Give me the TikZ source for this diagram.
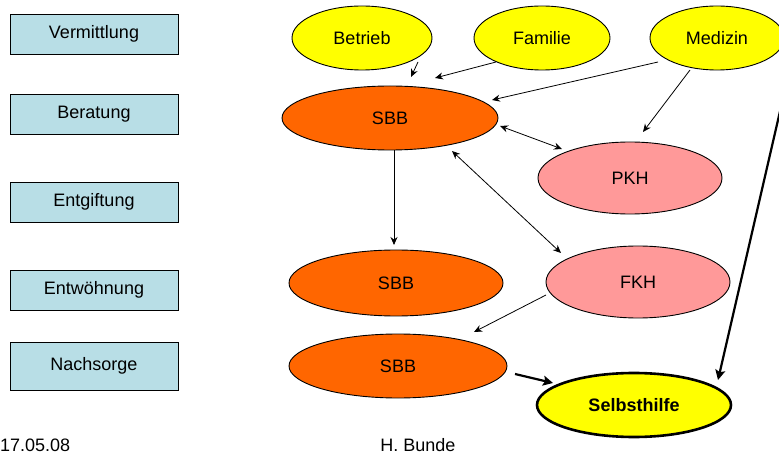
\documentclass[tikz,border=0pt]{standalone}
\usepackage{fontspec}
\setmainfont{Liberation Sans}
\usetikzlibrary{arrows.meta,calc,shapes.geometric}
\definecolor{boxfill}{RGB}{184,222,230}
\definecolor{ylw}{RGB}{255,255,0}
\definecolor{orng}{RGB}{255,102,0}
\definecolor{pink}{RGB}{255,153,153}
\tikzset{
  stage/.style={draw=black, line width=0.8pt, fill=boxfill, minimum width=168pt, minimum height=40pt, inner sep=0pt, font=\fontsize{18}{21}\selectfont},
  ell/.style={ellipse, draw=black, line width=0.9pt, inner sep=0pt, font=\fontsize{18}{21}\selectfont},
  src/.style={ell, fill=ylw, minimum width=140pt, minimum height=64pt},
  sbb/.style={ell, fill=orng, minimum width=216pt, minimum height=64pt},
  klin/.style={ell, fill=pink, minimum width=184pt, minimum height=72pt},
  arr/.style={line width=0.8pt, -{Stealth[length=8pt,width=7pt]}},
  darr/.style={line width=0.8pt, {Stealth[length=8pt,width=7pt]}-{Stealth[length=8pt,width=7pt]}},
  tarr/.style={line width=2.2pt, -{Stealth[length=10pt,width=10pt,inset=2pt]}},
  foot/.style={font=\fontsize{18}{21}\selectfont, inner sep=0pt}
}
\begin{document}
\begin{tikzpicture}[x=1pt,y=-1pt]
\useasboundingbox (0,0) rectangle (779,454);
% left stages
\node[stage] (verm) at (94,34) {Vermittlung};
\node[stage] (bera) at (94,114) {Beratung};
\node[stage] (entg) at (94,202) {Entgiftung};
\node[stage] (entw) at (94,290) {Entwöhnung};
\node[stage, minimum height=48pt] (nach) at (94,366) {Nachsorge};
% ellipses
\node[src] (betrieb) at (362,38) {Betrieb};
\node[src, minimum width=136pt] (familie) at (542,38) {Familie};
\node[src, minimum width=134pt] (medizin) at (717,38) {Medizin};
\node[sbb] (sbb1) at (390,118) {SBB};
\node[klin] (pkh) at (630,178) {PKH};
\node[klin] (fkh) at (638,282) {FKH};
\node[sbb, minimum width=214pt, minimum height=66pt] (sbb2) at (396,283) {SBB};
\node[sbb, minimum width=218pt] (sbb3) at (398,366) {SBB};
\node[ell, fill=ylw, line width=2.6pt, minimum width=194pt, minimum height=64pt, font=\fontsize{18}{21}\selectfont\bfseries] (selbst) at (634,405) {Selbsthilfe};
% connectors
\draw[arr] ($(betrieb)+(56,24)$) -- ($(sbb1)+(21,-41)$);
\draw[arr] ($(familie)+(-46,24)$) -- ($(sbb1)+(45,-40)$);
\draw[arr] ($(medizin)+(-59,24)$) -- ($(sbb1)+(102,-18)$);
\draw[arr] ($(medizin)+(-27,32)$) -- ($(pkh)+(13,-46)$);
\draw[darr] ($(sbb1)+(110,8)$) -- ($(pkh)+(-68,-29)$);
\draw[darr] ($(sbb1)+(62,33)$) -- ($(fkh)+(-77,-29)$);
\draw[arr] ($(sbb1)+(4,32)$) -- ($(sbb2)+(-2,-38)$);
\draw[arr] ($(fkh)+(-92,13)$) -- ($(sbb3)+(76,-34)$);
\draw[tarr] ($(sbb3)+(117,8)$) -- ($(selbst)+(-81,-22)$);
\draw[tarr] ($(medizin)+(73,30)$) -- ($(selbst)+(84,-25)$);
% footer
\node[foot, anchor=base west] (date) at (0,451) {17.05.08};
\node[foot, anchor=base] (author) at (418,451) {H. Bunde};
\end{tikzpicture}
\end{document}
